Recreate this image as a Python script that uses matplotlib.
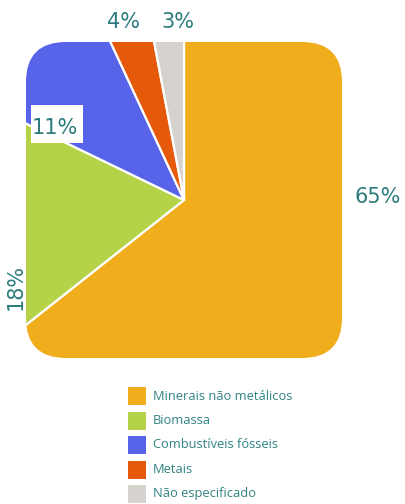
import matplotlib.pyplot as plt
from matplotlib.patches import BoxStyle, PathPatch, Rectangle

# dados
categorias = ["Minerais não metálicos", "Biomassa", "Combustíveis fósseis",
              "Metais", "Não especificado"]
valores = [65, 18, 11, 4, 3]
rotulos = ["65%", "18%", "11%", "4%", "3%"]
cores = ["#F0AD1C", "#B5D348", "#5763E8", "#E55A0A", "#D6D3CE"]

TEAL = "#2C7B7C"
W, H = 405, 504

fig = plt.figure(figsize=(W / 100, H / 100), dpi=100)
ax = fig.add_axes([0, 0, 1, 1])

# pizza recortada por um quadrado de cantos arredondados
cx, cy = 184, H - 200
x0, y0, lado = 26, H - 358, 316

wedges, _ = ax.pie(valores, colors=cores, startangle=90, counterclock=False,
                   center=(cx, cy), radius=260, frame=True,
                   wedgeprops=dict(edgecolor="white", linewidth=1.6))

contorno = BoxStyle("Round", pad=0, rounding_size=40)(x0, y0, lado, lado, 1.0)
caixa = PathPatch(contorno, transform=ax.transData, facecolor="none",
                  edgecolor="none")
ax.add_patch(caixa)
for w in wedges:
    w.set_clip_on(True)   # pie desliga o clip por padrão
    w.set_clip_path(caixa)

ax.set_xlim(0, W)
ax.set_ylim(0, H)
ax.set_aspect("auto")
ax.axis("off")

# rótulos de porcentagem
fs = 15
ax.text(378, H - 197, rotulos[0], color=TEAL, fontsize=fs, ha="center", va="center")
ax.text(16, H - 287, rotulos[1], color=TEAL, fontsize=fs, ha="center", va="center",
        rotation=90)
ax.add_patch(Rectangle((31, H - 143), 52, 38, facecolor="white", edgecolor="none",
                       zorder=3))
ax.text(55, H - 128, rotulos[2], color=TEAL, fontsize=fs, ha="center", va="center",
        zorder=4)
ax.text(124, H - 22, rotulos[3], color=TEAL, fontsize=fs, ha="center", va="center")
ax.text(178, H - 22, rotulos[4], color=TEAL, fontsize=fs, ha="center", va="center")

# legenda
for i, (nome, cor) in enumerate(zip(categorias, cores)):
    yc = H - (396 + i * 24.5)
    ax.add_patch(Rectangle((128, yc - 9), 18, 18, facecolor=cor, edgecolor="none"))
    ax.text(153, yc, nome, color="#2F8381", fontsize=9.3, family="Open Sans",
            ha="left", va="center")

fig.savefig("out.png", dpi=100)
